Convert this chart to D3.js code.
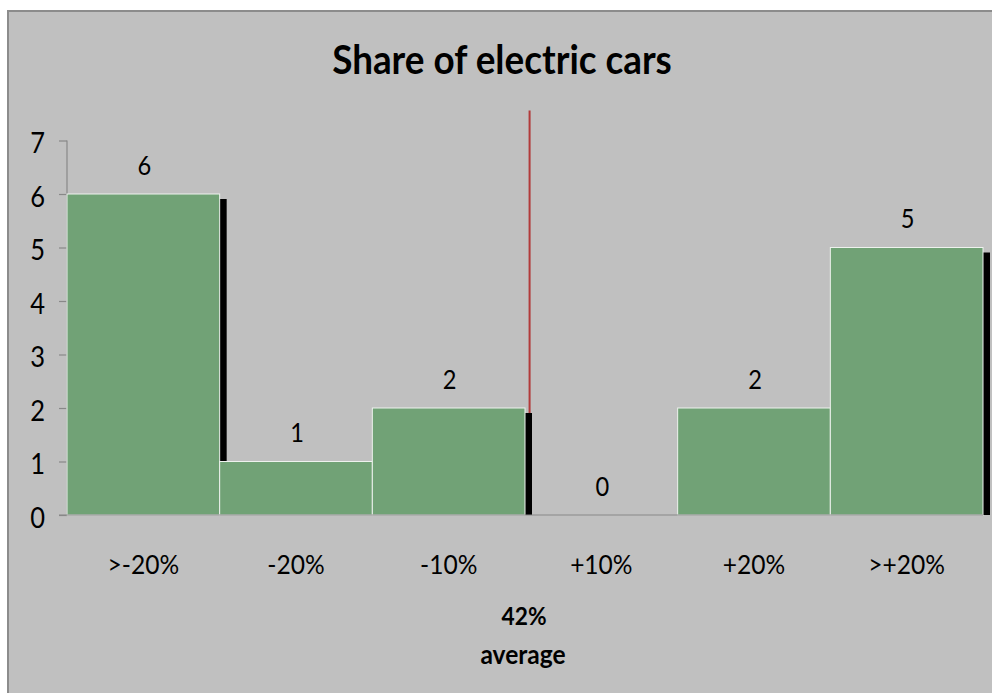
<!DOCTYPE html>
<html>
<head>
<meta charset="utf-8">
<script src="https://cdn.jsdelivr.net/npm/d3@7"></script>
<style>
  html, body { margin: 0; padding: 0; background: #ffffff; }
  svg { display: block; }
  text { font-family: Lato, "Open Sans", sans-serif; fill: #000; }
</style>
</head>
<body>
<script>
// Histogram of deviations from the average share of electric cars
const categories = [">-20%", "-20%", "-10%", "+10%", "+20%", ">+20%"];
const counts = [6, 1, 2, 0, 2, 5];
const yTicks = [0, 1, 2, 3, 4, 5, 6, 7];
const title = "Share of electric cars";
const averageValue = "42%";
const averageCaption = "average";
// average marker position along the category axis (in band units) and its top (in count units)
const averagePosition = 3.03;
const averageTop = 7.56;

const W = 992, H = 693;
const sx = 0.91; // horizontal text compression

const svg = d3.select("body").append("svg").attr("width", W).attr("height", H);

// chart area with border
svg.append("rect").attr("x", 8).attr("y", 11).attr("width", W).attr("height", H)
  .attr("fill", "#c0c0c0").attr("stroke", "#8c8c8c").attr("stroke-width", 2);

const plot = { left: 67, right: 983, top: 140.5, bottom: 515 };

const x = d3.scaleBand().domain(categories).range([plot.left, plot.right]).padding(0);
const xPos = d3.scaleLinear().domain([0, categories.length]).range([plot.left, plot.right]);
const y = d3.scaleLinear().domain([0, 7]).range([plot.bottom, plot.top]);

function label(g, tx, ty, str, size, weight, anchor) {
  return g.append("text")
    .attr("transform", `translate(${tx},${ty}) scale(${sx},1)`)
    .attr("text-anchor", anchor || "middle")
    .attr("font-size", size)
    .attr("font-weight", weight || "normal")
    .text(str);
}

// title
label(svg, 502, 74, title, 40.5, "bold");

// y axis
const yAxis = d3.axisLeft(y).tickValues(yTicks).tickSize(8).tickFormat("");
const ya = svg.append("g").attr("transform", `translate(${plot.left},0)`).call(yAxis);
ya.selectAll("path, line").attr("stroke", "#888888").attr("stroke-width", 1.2);
ya.select(".domain").attr("d", `M0,${y(0)}V${y(7)}`);
yTicks.forEach(t => label(svg, 45, y(t) + 12.5, String(t), 28, "normal", "end"));

// average marker line
svg.append("line")
  .attr("x1", xPos(averagePosition)).attr("x2", xPos(averagePosition))
  .attr("y1", y(averageTop)).attr("y2", y(0))
  .attr("stroke", "#b23a3a").attr("stroke-width", 2);

const data = categories.map((c, i) => ({ c, v: counts[i] }));
const nonZero = data.filter(d => d.v > 0);

// drop shadows behind the bars
svg.append("g").selectAll("rect").data(nonZero).join("rect")
  .attr("x", d => x(d.c) + 7)
  .attr("y", d => y(d.v) + 5)
  .attr("width", x.bandwidth())
  .attr("height", d => y(0) - y(d.v) - 5)
  .attr("fill", "#000");

// bars
svg.append("g").selectAll("rect").data(nonZero).join("rect")
  .attr("x", d => x(d.c))
  .attr("y", d => y(d.v))
  .attr("width", x.bandwidth())
  .attr("height", d => y(0) - y(d.v))
  .attr("fill", "#71a276")
  .attr("stroke", "#eef2ee").attr("stroke-width", 1);

// baseline
svg.append("line").attr("x1", plot.left - 8).attr("x2", plot.right)
  .attr("y1", y(0)).attr("y2", y(0))
  .attr("stroke", "#888888").attr("stroke-width", 1.2);

// value labels
data.forEach(d => label(svg, x(d.c) + x.bandwidth() / 2 + 1, y(d.v) - 19.5, String(d.v), 26));

// category labels
categories.forEach(c => label(svg, x(c) + x.bandwidth() / 2, 574, c, 27));

// average annotation
label(svg, 524, 625, averageValue, 25, "bold");
label(svg, 523, 664, averageCaption, 27, "bold");
</script>
</body>
</html>
